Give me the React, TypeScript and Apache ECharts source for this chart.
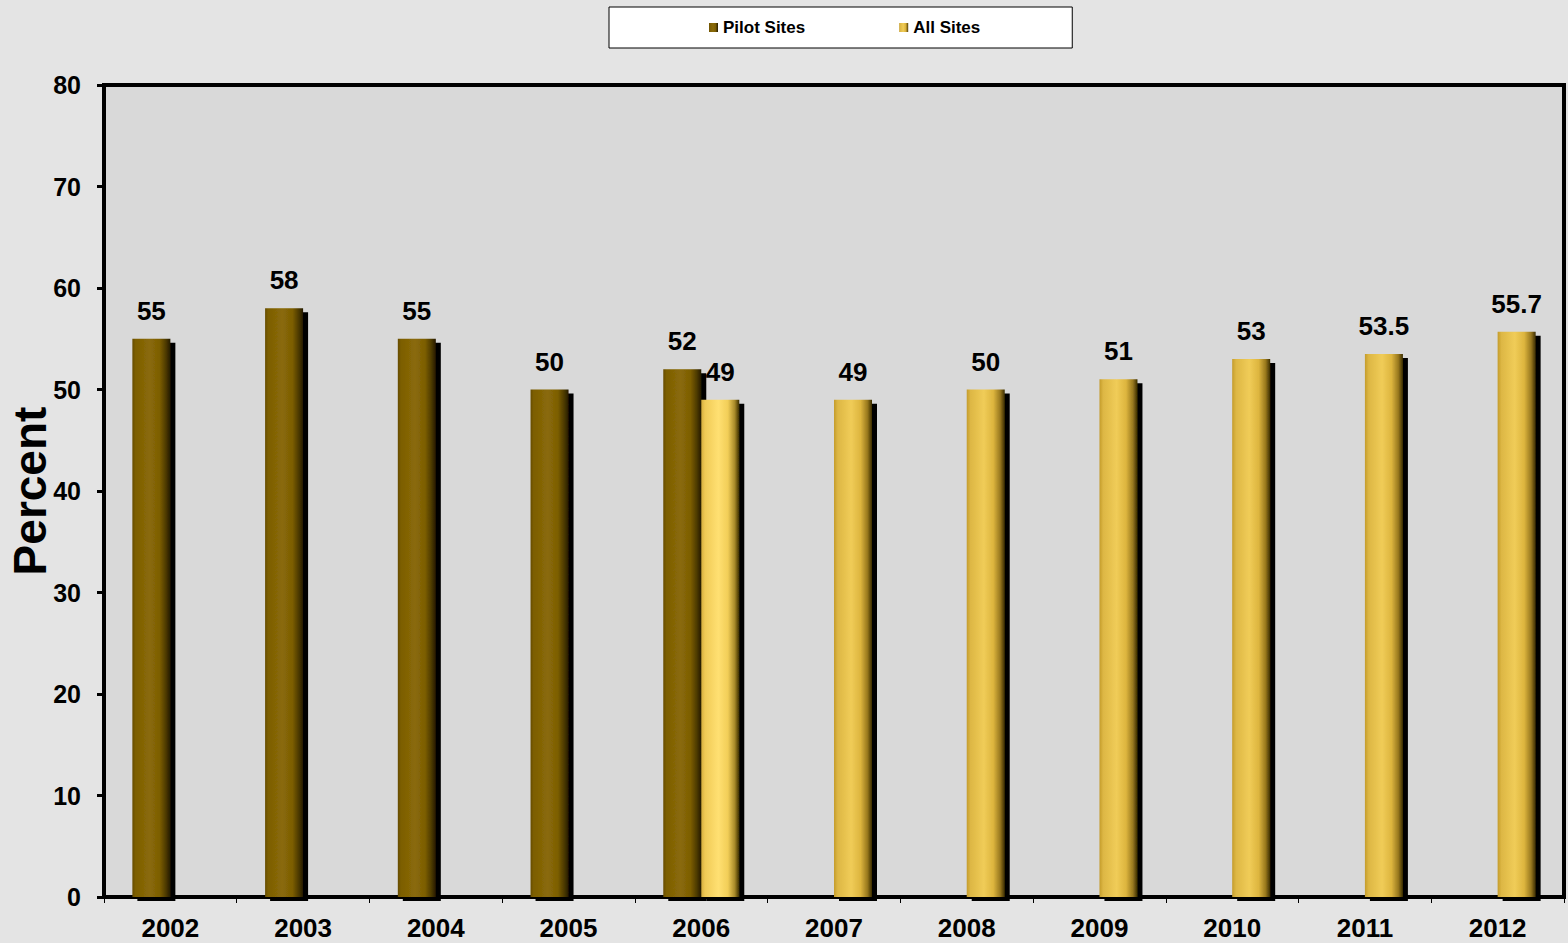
import React, { useEffect, useRef } from "react";
import * as echarts from "echarts";

const years = ["2002", "2003", "2004", "2005", "2006", "2007", "2008", "2009", "2010", "2011", "2012"];
const pilotSites: (number | null)[] = [55, 58, 55, 50, 52, null, null, null, null, null, null];
const allSites: (number | null)[] = [null, null, null, null, 49, 49, 50, 51, 53, 53.5, 55.7];
const yTicks = { min: 0, max: 80, interval: 10 };

const FONT = "'Liberation Sans', Arial, sans-serif";

const hGrad = (stops: [number, string][]) =>
  new echarts.graphic.LinearGradient(0, 0, 1, 0, stops.map(([offset, color]) => ({ offset, color })));

const pilotGrad = hGrad([
  [0, "#664C00"],
  [0.08, "#7C5E04"],
  [0.45, "#8A6A08"],
  [0.72, "#7C5E05"],
  [0.88, "#4E3B00"],
  [1, "#241A00"],
]);
const allGrad = hGrad([
  [0, "#C49C2C"],
  [0.1, "#DDB744"],
  [0.45, "#F0CC58"],
  [0.7, "#DDB53E"],
  [0.88, "#98781E"],
  [1, "#3A2C00"],
]);
const allGradBright = hGrad([
  [0, "#D6AE3E"],
  [0.1, "#F0CA56"],
  [0.45, "#FFE072"],
  [0.7, "#F2CE58"],
  [0.88, "#A88A28"],
  [1, "#3A2C00"],
]);

export default function App() {
  const ref = useRef<HTMLDivElement>(null);
  useEffect(() => {
    if (!ref.current) return;
    const chart = echarts.init(ref.current, null, { renderer: "svg" });
    const labelCfg = {
      show: true,
      position: "top" as const,
      distance: 15,
      color: "#000",
      fontSize: 26,
      fontWeight: "bold" as const,
      fontFamily: FONT,
    };
    const shadow = { shadowColor: "#000", shadowOffsetX: 5, shadowOffsetY: 4, shadowBlur: 0 };
    chart.setOption({
      animation: false,
      backgroundColor: "#E4E4E4",
      legend: {
        left: 609,
        top: 7,
        padding: [12, 92, 12, 100],
        itemGap: 94,
        itemWidth: 9,
        itemHeight: 9,
        icon: "rect",
        backgroundColor: "#FFFFFF",
        borderColor: "#000",
        borderWidth: 1,
        textStyle: { fontFamily: FONT, fontSize: 17, fontWeight: "bold", color: "#000" },
        data: ["Pilot Sites", "All Sites"],
      },
      grid: {
        left: 104,
        right: 4,
        top: 85,
        bottom: 46,
        containLabel: false,
        outerBoundsMode: "none",
        show: true,
        backgroundColor: "#D9D9D9",
        borderColor: "#000",
        borderWidth: 4,
      },
      xAxis: {
        type: "category",
        data: years,
        boundaryGap: true,
        axisLine: { show: true, lineStyle: { color: "#000", width: 4 } },
        axisTick: { show: true, length: 6, interval: 0, lineStyle: { color: "#000", width: 1 } },
        axisLabel: {
          interval: 0,
          margin: 18,
          color: "#000",
          fontSize: 26,
          fontWeight: "bold",
          fontFamily: FONT,
        },
      },
      yAxis: {
        type: "value",
        min: yTicks.min,
        max: yTicks.max,
        interval: yTicks.interval,
        name: "Percent",
        nameLocation: "middle",
        nameGap: 51,
        nameMoveOverlap: false,
        nameTextStyle: { fontFamily: FONT, fontSize: 46, fontWeight: "bold", color: "#000" },
        splitLine: { show: false },
        axisLine: { show: true, lineStyle: { color: "#000", width: 4 } },
        axisTick: { show: true, length: 7, lineStyle: { color: "#000", width: 3 } },
        axisLabel: {
          margin: 23,
          color: "#000",
          fontSize: 25,
          fontWeight: "bold",
          fontFamily: FONT,
        },
      },
      series: [
        {
          name: "Pilot Sites",
          type: "bar",
          barWidth: 38,
          barGap: "0%",
          data: pilotSites,
          itemStyle: { color: pilotGrad, ...shadow },
          label: labelCfg,
        },
        {
          name: "All Sites",
          type: "bar",
          barWidth: 38,
          barGap: "0%",
          data: allSites.map((v, i) =>
            years[i] === "2006" && v !== null ? { value: v, itemStyle: { color: allGradBright, ...shadow } } : v
          ),
          itemStyle: { color: allGrad, ...shadow },
          label: labelCfg,
        },
      ],
    });
    return () => chart.dispose();
  }, []);
  return (
    <div
      ref={ref}
      style={{ position: "absolute", left: 0, top: 0, width: 1568, height: 943 }}
    />
  );
}
